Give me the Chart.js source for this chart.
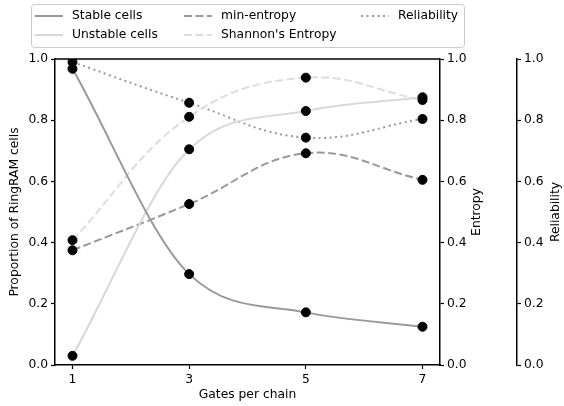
<!DOCTYPE html>
<html>
<head>
<meta charset="utf-8">
<script src="https://cdn.jsdelivr.net/npm/chart.js@4"></script>
<style>
  html, body { margin: 0; padding: 0; background: #fff; }
  #wrap { width: 564px; height: 406px; }
</style>
</head>
<body>
<div id="wrap"><canvas id="ringram-chart"></canvas></div>
<script>
// values
const gates = [1, 3, 5, 7];
const stableCells = [0.968, 0.297, 0.172, 0.125];
const unstableCells = [0.030, 0.705, 0.830, 0.875];
const minEntropy = [0.375, 0.526, 0.692, 0.605];
const shannonEntropy = [0.408, 0.811, 0.939, 0.866];
const reliability = [0.990, 0.857, 0.743, 0.804];
const yTicks = [0, 0.2, 0.4, 0.6, 0.8, 1.0];

const FONT = "'DejaVu Sans', sans-serif";
const FSIZE = 12.3;
Chart.defaults.font.family = FONT;
Chart.defaults.font.size = FSIZE;
Chart.defaults.color = '#000';

const pts = ys => gates.map((g, i) => ({ x: g, y: ys[i] }));

function line(label, ys, color, dash, axis, smooth) {
  return {
    label: label, data: pts(ys), yAxisID: axis,
    borderColor: color, borderWidth: 2, borderDash: dash,
    pointRadius: 0, fill: false, order: 1, legend: true,
    cubicInterpolationMode: smooth === 'mono' ? 'monotone' : 'default',
    tension: 0.4
  };
}
function dots(ys, axis) {
  return {
    type: 'scatter', data: pts(ys), yAxisID: axis, showLine: false,
    pointRadius: 4.5, pointBackgroundColor: '#000', pointBorderColor: '#000',
    order: 0
  };
}

const datasets = [
  line('Stable cells', stableCells, '#999999', [], 'y', 'mono'),
  line('Unstable cells', unstableCells, '#d8d8d8', [], 'y', 'mono'),
  line('min-entropy', minEntropy, '#999999', [8, 3.5], 'y1'),
  line("Shannon's Entropy", shannonEntropy, '#dddddd', [8, 3.5], 'y1'),
  line('Reliability', reliability, '#999999', [2, 3.5], 'y2'),
  dots(stableCells, 'y'), dots(unstableCells, 'y'),
  dots(minEntropy, 'y1'), dots(shannonEntropy, 'y1'), dots(reliability, 'y2')
];

function yAxis(pos, width) {
  return {
    position: pos, min: 0, max: 1,
    afterBuildTicks: s => { s.ticks = yTicks.map(v => ({ value: v })); },
    afterFit: s => { s.width = width; },
    ticks: { callback: v => v.toFixed(1), padding: 3 },
    grid: { drawOnChartArea: false, tickLength: 4, color: '#000', tickWidth: 1.2 },
    border: { color: '#000', width: 1.5 }
  };
}

// top spine, rotated titles and a 3-column legend like matplotlib's
const extras = {
  id: 'extras',
  afterDraw(chart) {
    const { ctx, chartArea: a } = chart;
    ctx.save();
    ctx.strokeStyle = '#000';
    ctx.lineWidth = 1.5;
    ctx.beginPath();
    ctx.moveTo(a.left, a.top);
    ctx.lineTo(a.right, a.top);
    ctx.stroke();

    ctx.fillStyle = '#000';
    ctx.font = FSIZE + 'px ' + FONT;
    ctx.textAlign = 'center';
    ctx.textBaseline = 'middle';
    const midY = (a.top + a.bottom) / 2;
    [['Proportion of RingRAM cells', 15], ['Entropy', 477], ['Reliability', 556]].forEach(([t, x]) => {
      ctx.save();
      ctx.translate(x, midY);
      ctx.rotate(-Math.PI / 2);
      ctx.fillText(t, 0, 0);
      ctx.restore();
    });
    ctx.fillText('Gates per chain', (a.left + a.right) / 2, 395);

    // legend
    ctx.fillStyle = 'rgba(255,255,255,0.8)';
    ctx.strokeStyle = '#cccccc';
    ctx.lineWidth = 1;
    ctx.beginPath();
    ctx.roundRect(31.5, 4.5, 433, 43, 3);
    ctx.fill();
    ctx.stroke();
    const colX = [35, 184, 361];
    const rowY = [16, 35];
    const items = chart.data.datasets.filter(d => d.legend);
    ctx.textAlign = 'left';
    items.forEach((d, i) => {
      const x = colX[Math.floor(i / 2)], y = rowY[i % 2];
      ctx.strokeStyle = d.borderColor;
      ctx.lineWidth = 2;
      ctx.setLineDash(d.borderDash);
      ctx.beginPath();
      ctx.moveTo(x, y);
      ctx.lineTo(x + 28, y);
      ctx.stroke();
      ctx.setLineDash([]);
      ctx.fillStyle = '#000';
      ctx.fillText(d.label, x + 37, y);
    });
    ctx.restore();
  }
};

new Chart(document.getElementById('ringram-chart'), {
  type: 'line',
  data: { datasets: datasets },
  options: {
    responsive: true,
    maintainAspectRatio: false,
    animation: false,
    layout: { padding: { top: 59, left: 0, right: 0, bottom: 0 } },
    plugins: { legend: { display: false }, tooltip: { enabled: false } },
    events: [],
    scales: {
      x: {
        type: 'linear', min: 0.7, max: 7.3,
        afterBuildTicks: s => { s.ticks = gates.map(v => ({ value: v })); },
        afterFit: s => { s.height = 41; },
        ticks: { padding: 3 },
        grid: { drawOnChartArea: false, tickLength: 4, color: '#000', tickWidth: 1.2 },
        border: { color: '#000', width: 1.5 }
      },
      y: yAxis('left', 55),
      y1: yAxis('right', 77),
      y2: yAxis('right', 47)
    }
  },
  plugins: [extras]
});
</script>
</body>
</html>
